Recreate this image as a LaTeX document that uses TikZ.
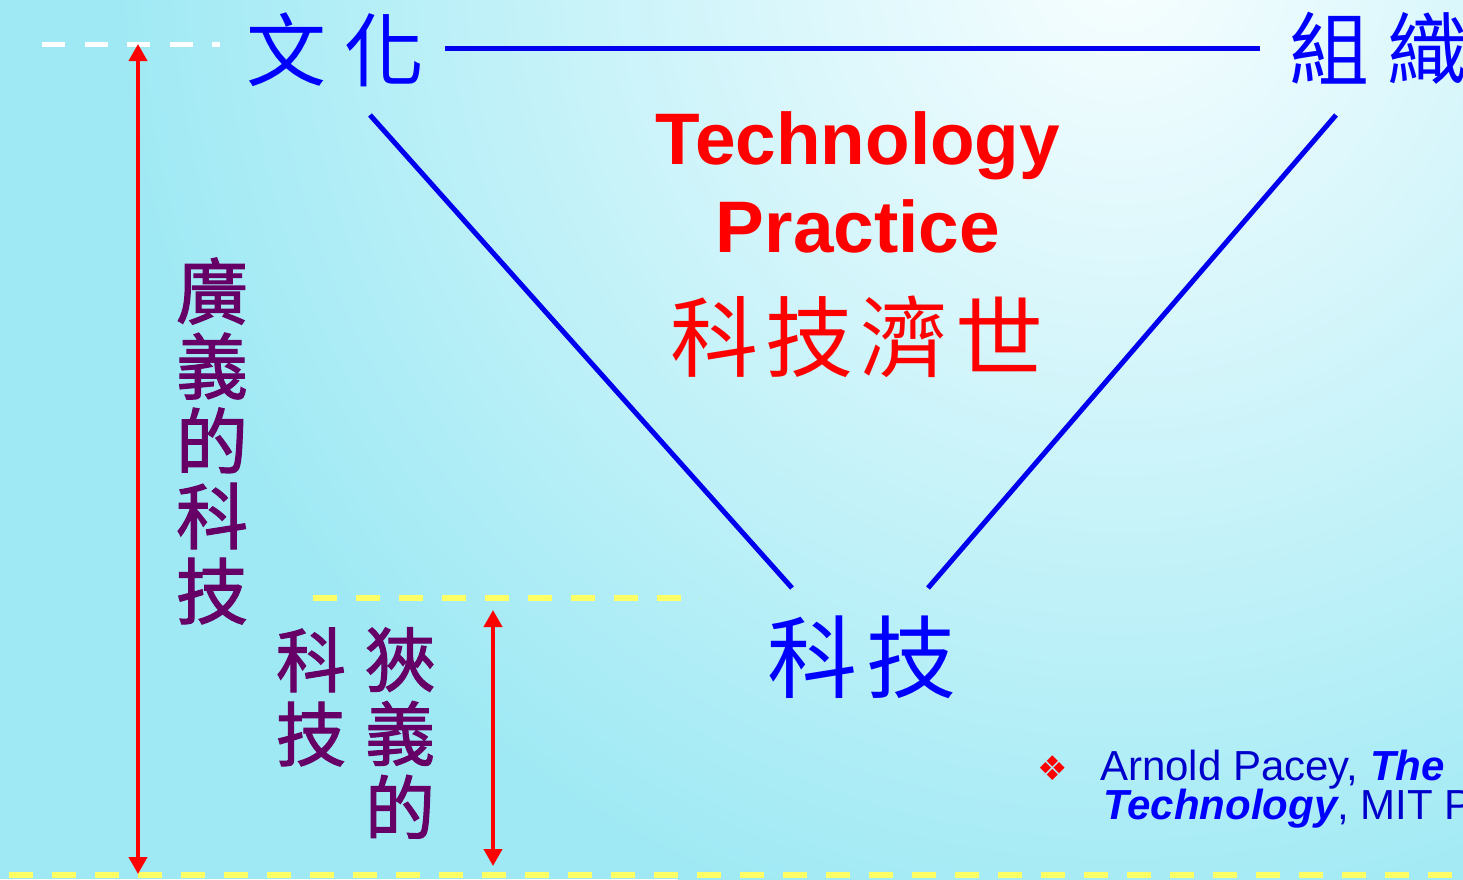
\documentclass[tikz,border=0pt]{standalone}
\usepackage{fontspec}
\setmainfont{Liberation Sans}
\newfontfamily\cjk{Noto Sans CJK TC}
\newfontfamily\cjkpurp[FakeBold=1.6]{Noto Sans CJK TC}
\newfontfamily\dejavu{DejaVu Sans}
\usetikzlibrary{arrows.meta,calc}
\definecolor{bgcyan}{RGB}{158,233,244}
\definecolor{bglight}{RGB}{248,254,255}
\definecolor{lineblue}{RGB}{0,0,238}
\definecolor{txtblue}{RGB}{0,0,255}
\definecolor{purp}{RGB}{102,0,102}
\definecolor{arrred}{RGB}{255,0,0}
\definecolor{dashyel}{RGB}{255,255,102}
\definecolor{citeblue}{RGB}{0,0,204}
\tikzset{
  cjkblue/.style={font=\cjk\fontsize{80}{80}\selectfont, text=txtblue, inner sep=0pt},
  redtitle/.style={font=\bfseries\fontsize{73}{73}\selectfont, text=arrred, inner sep=0pt, anchor=base},
  redcjk/.style={font=\cjk\fontsize{88}{88}\selectfont, text=arrred, inner sep=0pt},
  purpcol/.style={font=\cjkpurp\fontsize{72}{75}\selectfont, text=purp, inner sep=0pt, align=center},
  purpsmall/.style={purpcol, font=\cjkpurp\fontsize{70}{74}\selectfont},
  tri/.style={line width=5pt, draw=lineblue},
  redarrow/.style={line width=4pt, draw=arrred, {Triangle[width=18pt,length=17pt]}-{Triangle[width=18pt,length=17pt]}},
  whitedash/.style={line width=5pt, draw=white, dash pattern=on 23pt off 19.5pt},
  yeldash/.style={line width=6pt, draw=dashyel, dash pattern=on 24pt off 19pt},
  cite/.style={font=\fontsize{42}{42}\selectfont, inner sep=0pt, anchor=base west, text=citeblue}
}
\begin{document}
\begin{tikzpicture}[x=1pt,y=-1pt]
\useasboundingbox (0,0) rectangle (1463,879);
\clip (0,0) rectangle (1463,879);
% background
\fill[bgcyan] (0,0) rectangle (1463,879);
\shade[inner color=bglight, outer color=bgcyan] (1120,-40) circle (1020);

% dashed guide lines
\coordinate (wd0) at (42,44);
\coordinate (wd1) at (220,44);
\draw[whitedash] (wd0) -- (wd1);
\coordinate (ym0) at (313,598);
\coordinate (ym1) at (700,598);
\draw[yeldash] (ym0) -- (ym1);
\coordinate (yb0) at (9,875);
\coordinate (yb1) at (1463,875);
\draw[yeldash] (yb0) -- (yb1);

% corner labels
\node[cjkblue] (wenhua) at (335,50) {文\hspace{18pt}化};
\node[cjkblue] (zuzhi) at (1378,48) {組\hspace{18pt}織};
\node[cjkblue, font=\cjk\fontsize{90}{90}\selectfont] (keji) at (862,657) {科\hspace{9pt}技};

% triangle lines
\draw[tri] ($(wenhua.center)+(110,-2)$) -- ($(zuzhi.center)+(-118,0)$);
\draw[tri] ($(wenhua.center)+(35,65)$) -- ($(keji.center)+(-70,-69)$);
\draw[tri] ($(zuzhi.center)+(-42,67)$) -- ($(keji.center)+(66,-69)$);

% centre titles
\node[redtitle] (tech) at (858,164) {Technology};
\node[redtitle] (prac) at (858,252) {Practice};
\node[redcjk] (jishi) at (857,337) {科\hspace{7pt}技\hspace{7pt}濟\hspace{7pt}世};

% vertical purple labels
\node[purpcol] (broad) at (212,441) {廣\\義\\的\\科\\技};
\node[purpsmall] (narrowA) at (311,697) {科\\技};
\node[purpsmall] (narrowB) at (400,733) {狹\\義\\的};

% red arrows
\coordinate (la0) at (138,44);
\coordinate (la1) at (138,874);
\draw[redarrow] (la0) -- (la1);
\coordinate (ra0) at (493,610);
\coordinate (ra1) at (493,866);
\draw[redarrow] (ra0) -- (ra1);

% citation
\node[inner sep=0pt, text=arrred, font=\dejavu\fontsize{34}{34}\selectfont] (bullet) at (1053,768) {❖};
\node[cite] (cite1) at (1100,780) {Arnold Pacey, \textcolor{txtblue}{\bfseries\itshape The}};
\node[cite] (cite2) at (1103,819) {\textcolor{txtblue}{\bfseries\itshape Technology}, MIT Press};
\end{tikzpicture}
\end{document}
